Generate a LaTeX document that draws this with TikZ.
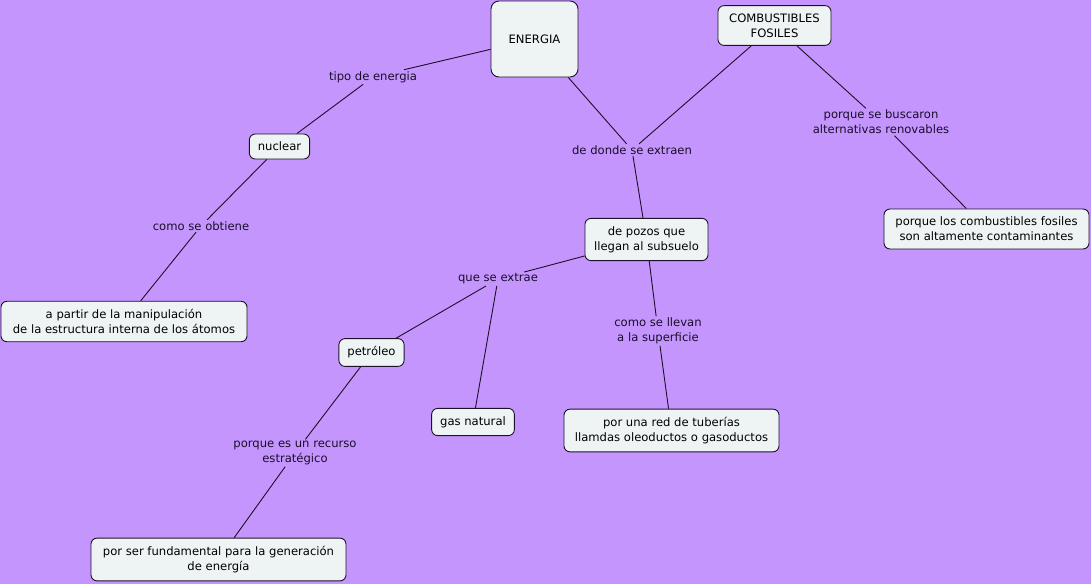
\documentclass[tikz,border=0pt]{standalone}
\usepackage{fontspec}
\setmainfont{DejaVu Sans}
\usepackage{xcolor}
\definecolor{cBack}{HTML}{C496FD}
\definecolor{cBox}{HTML}{EEF4F4}
\definecolor{cLine}{HTML}{1E1028}
\definecolor{cText}{HTML}{1A0D2A}
\usetikzlibrary{positioning}
\tikzset{
  concept-box/.style={draw=cLine,line width=0.9pt,fill=cBox,rounded corners=6pt,
    align=center,inner xsep=8.5pt,inner ysep=8pt,text=black},
  link-label/.style={align=center,inner sep=1.5pt,text=cText},
  link/.style={draw=cLine,line width=0.9pt},
}

\begin{document}
\begin{tikzpicture}[x=1pt,y=-1pt,every node/.style={font=\fontsize{11.6}{15}\selectfont}]
  \fill[cBack] (0,0) rectangle (1091,584);
  \useasboundingbox (0,0) rectangle (1091,584);
  % conceptos
  \node[concept-box,minimum width=87pt,minimum height=76pt,rounded corners=8pt] (energia) at (534.5,39) {ENERGIA};
  \node[concept-box,minimum width=113pt] (fosiles) at (774.5,25.5) {COMBUSTIBLES\\FOSILES};
  \node[concept-box] (nuclear) at (279.5,146.5) {nuclear};
  \node[concept-box,minimum width=246pt] (atomos) at (124,321.5) {a partir de la manipulación\\de la estructura interna de los átomos};
  \node[concept-box,minimum width=123pt] (pozos) at (646.5,239.5) {de pozos que\\llegan al subsuelo};
  \node[concept-box,minimum width=205pt] (contam) at (986.5,229) {porque los combustibles fosiles\\son altamente contaminantes};
  \node[concept-box] (petroleo) at (371.5,352.5) {petróleo};
  \node[concept-box] (gas) at (473,422) {gas natural};
  \node[concept-box,minimum width=215pt] (tuberias) at (671.5,430.5) {por una red de tuberías\\llamdas oleoductos o gasoductos};
  \node[concept-box,minimum width=255pt] (generacion) at (218.5,559.5) {por ser fundamental para la generación\\de energía};
  % frases de enlace
  \node[link-label] (tipo) at (373,77) {tipo de energia};
  \node[link-label] (donde) at (632,150) {de donde se extraen};
  \node[link-label] (obtiene) at (201,226) {como se obtiene};
  \node[link-label] (buscaron) at (881,122) {porque se buscaron\\alternativas renovables};
  \node[link-label] (extrae) at (498,279) {que se extrae};
  \node[link-label] (llevan) at (658,331) {como se llevan\\a la superficie};
  \node[link-label] (recurso) at (295,453) {porque es un recurso\\estratégico};
  % conexiones
  \draw[link] (energia) -- (tipo);
  \draw[link] (tipo) -- (nuclear);
  \draw[link] (nuclear) -- (obtiene);
  \draw[link] (obtiene) -- (atomos);
  \draw[link] (energia) -- (donde);
  \draw[link] (fosiles) -- (donde);
  \draw[link] (donde) -- (pozos);
  \draw[link] (fosiles) -- (buscaron);
  \draw[link] (buscaron) -- (contam);
  \draw[link] (pozos) -- (extrae);
  \draw[link] (extrae) -- (petroleo);
  \draw[link] (extrae) -- (gas);
  \draw[link] (pozos) -- (llevan);
  \draw[link] (llevan) -- (tuberias);
  \draw[link] (petroleo) -- (recurso);
  \draw[link] (recurso) -- (generacion);
\end{tikzpicture}
\end{document}
